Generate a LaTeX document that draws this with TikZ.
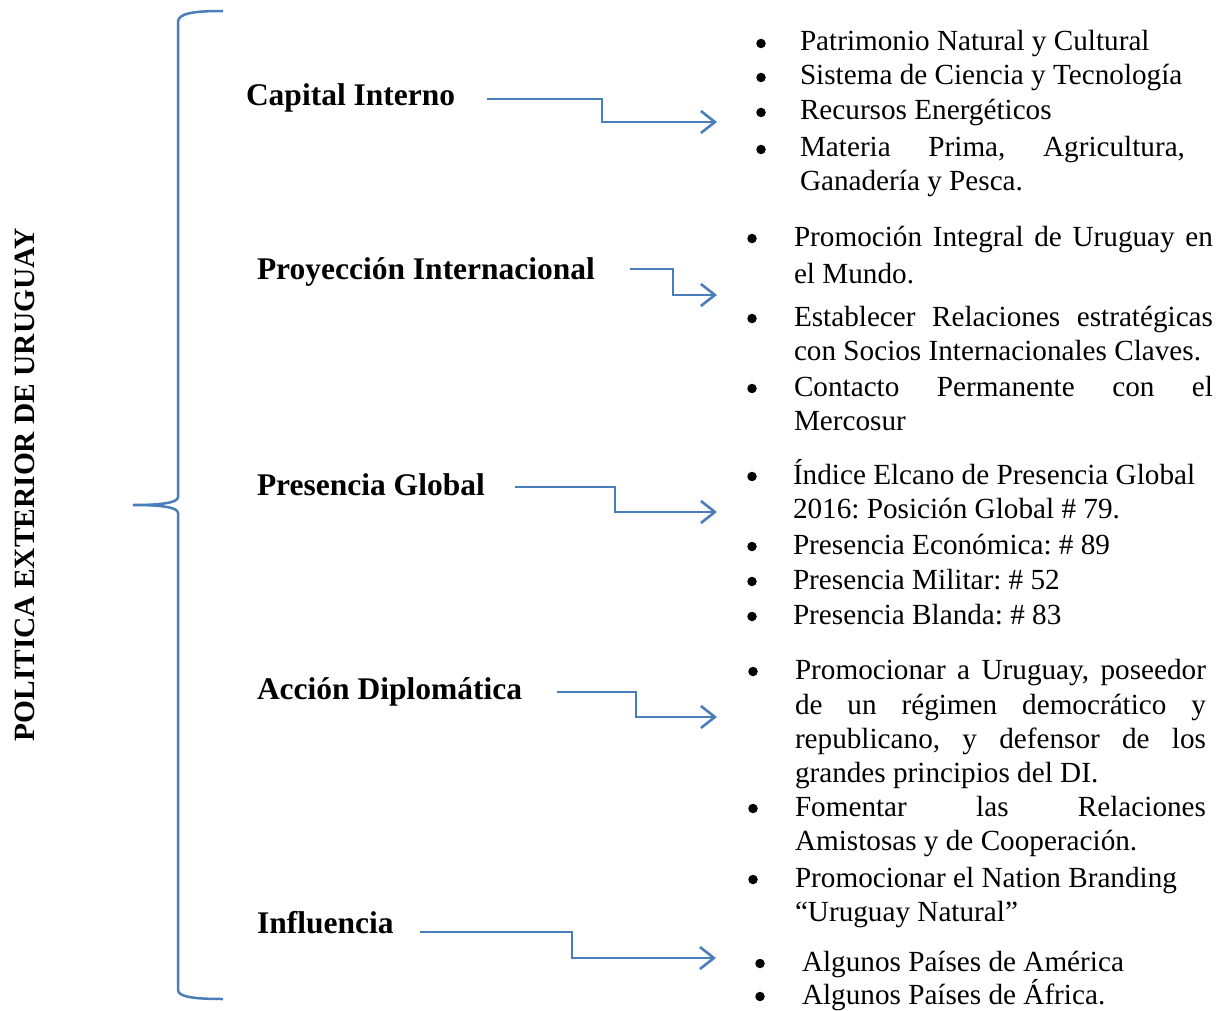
\documentclass[tikz,border=0pt]{standalone}
\usepackage{fontspec}
\setmainfont{Liberation Serif}
\usetikzlibrary{arrows.meta}
\definecolor{wblue}{RGB}{74,126,187}
\begin{document}
\begin{tikzpicture}[x=1pt,y=-1pt,
  lab/.style={anchor=base west,inner sep=0pt,outer sep=0pt,font=\fontsize{31.5}{36}\selectfont\bfseries\frenchspacing},
  itm/.style={anchor=base west,inner sep=0pt,outer sep=0pt,font=\fontsize{29.2}{35}\selectfont\frenchspacing},
  bul/.style={circle,fill=black,inner sep=0pt,minimum size=9.5pt},
  conn/.style={draw=wblue,line width=2.6pt,-{Straight Barb[length=14pt,width=22pt,line width=2.6pt]}},
  brc/.style={draw=wblue,line width=2.5pt}]
\path[use as bounding box] (0,0) rectangle (1231,1011);

% title
\node[rotate=90,anchor=base,inner sep=0pt,font=\fontsize{29.4}{35}\selectfont\bfseries] (title) at (34,485) {POLITICA EXTERIOR DE URUGUAY};

% brace
\draw[brc] (223,11) .. controls (195,11) and (178,13) .. (178,22) -- (178,497)
  .. controls (178,503) and (160,505) .. (133,505)
  .. controls (160,505) and (178,507) .. (178,513) -- (178,990)
  .. controls (178,997) and (195,999) .. (223,999);

% labels
\node[lab] (cap) at (246,106) {Capital Interno};
\node[lab] (pro) at (257,279) {Proyección Internacional};
\node[lab] (pre) at (257,495) {Presencia Global};
\node[lab] (acc) at (257,699) {Acción Diplomática};
\node[lab] (inf) at (257,933) {Influencia};

% connectors
\coordinate (a1s) at (487,99);  \coordinate (a1e) at (717,122);
\coordinate (a2s) at (630,269); \coordinate (a2e) at (717,295);
\coordinate (a3s) at (515,487); \coordinate (a3e) at (717,512);
\coordinate (a4s) at (557,692); \coordinate (a4e) at (717,717);
\coordinate (a5s) at (420,932); \coordinate (a5e) at (716,958);
\draw[conn] (a1s) -- ++(115,0) |- (a1e);
\draw[conn] (a2s) -- ++(43,0) |- (a2e);
\draw[conn] (a3s) -- ++(100,0) |- (a3e);
\draw[conn] (a4s) -- ++(79,0) |- (a4e);
\draw[conn] (a5s) -- ++(152,0) |- (a5e);

% list 1
\node[bul] (b11) at (761,43.5) {};
\node[bul] (b12) at (761,77.5) {};
\node[bul] (b13) at (761,112.5) {};
\node[bul] (b14) at (761,149.5) {};
\node[itm] (t11) at (800,51) {Patrimonio Natural y Cultural};
\node[itm] (t12) at (800,85) {Sistema de Ciencia y Tecnología};
\node[itm] (t13) at (800,120) {Recursos Energéticos};
\node[itm] (t14) at (800,157) {\makebox[385pt][s]{Materia Prima, Agricultura,}};
\node[itm] (t15) at (800,191) {Ganadería y Pesca.};

% list 2
\node[bul] (b21) at (752,238.5) {};
\node[bul] (b22) at (752,318.5) {};
\node[bul] (b23) at (752,388.5) {};
\node[itm] (t21) at (794,246) {\makebox[419pt][s]{Promoción Integral de Uruguay en}};
\node[itm] (t22) at (794,283) {el Mundo.};
\node[itm] (t23) at (794,326) {\makebox[419pt][s]{Establecer Relaciones estratégicas}};
\node[itm] (t24) at (794,360) {con Socios Internacionales Claves.};
\node[itm] (t25) at (794,396) {\makebox[419pt][s]{Contacto Permanente con el}};
\node[itm] (t26) at (794,430) {Mercosur};

% list 3
\node[bul] (b31) at (752,476.5) {};
\node[bul] (b32) at (752,546.5) {};
\node[bul] (b33) at (752,581.5) {};
\node[bul] (b34) at (752,616.5) {};
\node[itm] (t31) at (793,484) {Índice Elcano de Presencia Global};
\node[itm] (t32) at (793,518) {2016: Posición Global \# 79.};
\node[itm] (t33) at (793,554) {Presencia Económica: \# 89};
\node[itm] (t34) at (793,589) {Presencia Militar: \# 52};
\node[itm] (t35) at (793,624) {Presencia Blanda: \# 83};

% list 4
\node[bul] (b41) at (753,671.5) {};
\node[bul] (b42) at (753,808.5) {};
\node[bul] (b43) at (753,879.5) {};
\node[itm] (t41) at (795,679) {\makebox[411pt][s]{Promocionar a Uruguay, poseedor}};
\node[itm] (t42) at (795,714) {\makebox[411pt][s]{de un régimen democrático y}};
\node[itm] (t43) at (795,748) {\makebox[411pt][s]{republicano, y defensor de los}};
\node[itm] (t44) at (795,782) {grandes principios del DI.};
\node[itm] (t45) at (795,816) {\makebox[411pt][s]{Fomentar las Relaciones}};
\node[itm] (t46) at (795,850) {Amistosas y de Cooperación.};
\node[itm] (t47) at (795,887) {Promocionar el Nation Branding};
\node[itm] (t48) at (795,921) {“Uruguay Natural”};

% list 5
\node[bul] (b51) at (760,963.5) {};
\node[bul] (b52) at (760,996.5) {};
\node[itm] (t51) at (802,971) {Algunos Países de América};
\node[itm] (t52) at (802,1004) {Algunos Países de África.};
\end{tikzpicture}
\end{document}
